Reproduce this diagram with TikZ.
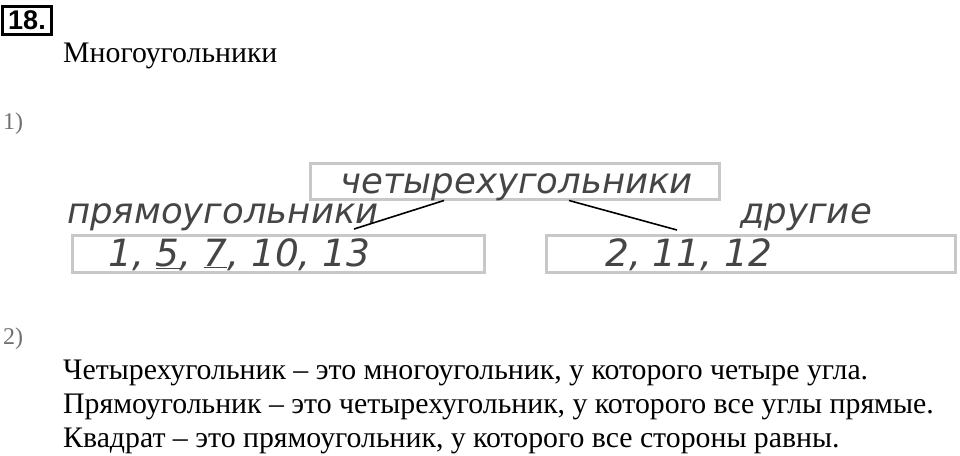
\documentclass[tikz,border=0pt]{standalone}
\usepackage{fontspec}
\setmainfont{Liberation Serif}
\newfontfamily\dv{DejaVu Sans}
\newfontfamily\ls{Liberation Sans}
\usetikzlibrary{calc}
\definecolor{boxgray}{HTML}{C8C8C8}
\definecolor{txtgray}{HTML}{454545}
\definecolor{numgray}{HTML}{707070}
\tikzset{
  gbox/.style={draw=boxgray, line width=3pt, inner sep=0pt},
  dtext/.style={text=txtgray, font=\dv\itshape\fontsize{35.5}{36}\selectfont, inner sep=0pt, anchor=base west},
  dnum/.style={text=txtgray, font=\dv\itshape\fontsize{37.5}{38}\selectfont, inner sep=0pt, anchor=base west},
  stext/.style={font=\fontsize{29.8}{30}\selectfont, inner sep=0pt, anchor=base west},
  num/.style={text=numgray, font=\fontsize{24}{24}\selectfont, inner sep=0pt, anchor=base west},
  link/.style={line width=1.6pt, black}
}
\begin{document}
\begin{tikzpicture}[x=1pt,y=-1pt]
\useasboundingbox[fill=white] (0,0) rectangle (960,455);
\node[draw, line width=2.6pt, inner sep=0pt, minimum width=49pt, minimum height=28.5pt, font=\ls\bfseries\fontsize{27}{27}\selectfont] (nr) at (27,20.5) {18.};
\node[stext] (title) at (63,62) {Многоугольники};
\node[num] (n1) at (3,129) {1)};
\node[gbox, minimum width=409pt, minimum height=36pt] (top) at (515,181) {};
\node[dtext] (toptxt) at (340,193) {четырехугольники};
\node[dtext] (rect) at (67,223) {прямоугольники};
\node[dtext] (other) at (740,223) {другие};
\node[gbox, minimum width=412pt, minimum height=37pt] (lbox) at (278,253.5) {};
\node[gbox, minimum width=409pt, minimum height=37pt] (rbox) at (750.5,253.5) {};
\node[dnum] (ltxt) at (108,266) {1, \underline{5}, \underline{7}, 10, 13};
\node[dnum] (rtxt) at (605,266) {2, 11, 12};
\coordinate (le) at (354,229);
\coordinate (re) at (677,230);
\draw[link] ($(top.south west)+(135,0)$) -- (le);
\draw[link] ($(top.south west)+(260,0)$) -- (re);
\node[num] (n2) at (3,344) {2)};
\node[stext] (l1) at (63,379) {Четырехугольник – это многоугольник, у которого четыре угла.};
\node[stext] (l2) at (63,413) {Прямоугольник – это четырехугольник, у которого все углы прямые.};
\node[stext] (l3) at (63,447) {Квадрат – это прямоугольник, у которого все стороны равны.};
\end{tikzpicture}
\end{document}
